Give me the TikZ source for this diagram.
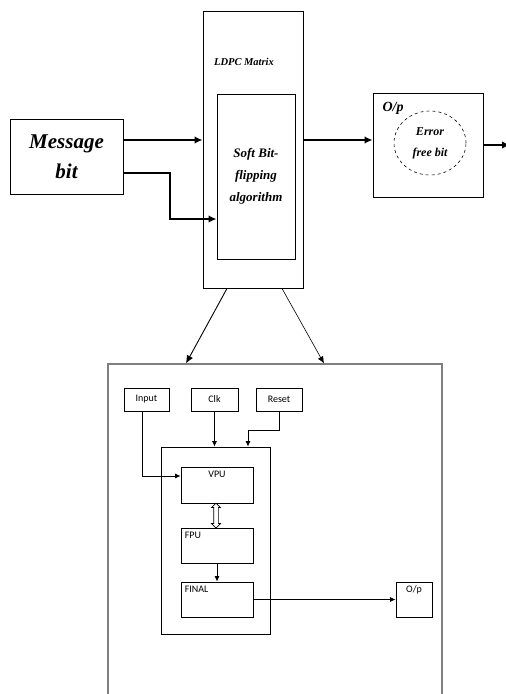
\documentclass[tikz,border=0pt]{standalone}
\usepackage{fontspec}
\setmainfont{Liberation Serif}
\newfontfamily\calfont{Carlito}
\usetikzlibrary{shapes, shapes.arrows, arrows.meta, positioning}

\begin{document}
\begin{tikzpicture}[x=1pt, y=-1pt,
    box/.style={draw, line width=.9pt, rectangle, inner sep=0pt},
    smallbox/.style={draw, line width=.8pt, rectangle, inner sep=0pt, font=\calfont\fontsize{10}{11}\selectfont},
    smalllbl/.style={font=\calfont\fontsize{10}{11}\selectfont, inner sep=4pt},
    thickarr/.style={line width=1.6pt, -{Latex[length=8pt, width=7.5pt]}},
    thinarr/.style={line width=.8pt, -{Latex[length=5.5pt, width=5pt]}}]
        \useasboundingbox (0, 0) rectangle (506, 694);
        % top row
        \node[box, minimum width=113, minimum height=75, align=center,
          font=\bfseries\itshape\fontsize{21}{30}\selectfont] (msg) at (66.5, 156.5) {Message\\bit};
        \node[box, minimum width=100, minimum height=277] (ldpc) at (253, 149.5) {};
        \node[font=\bfseries\itshape\fontsize{10.5}{12}\selectfont] (ldpclbl) at (244, 62) {LDPC Matrix};
        \node[box, minimum width=78, minimum height=165, align=center,
          font=\bfseries\itshape\fontsize{13}{22}\selectfont] (algo) at (256, 176.5) {Soft Bit-\\flipping\\algorithm};
        \node[box, minimum width=110, minimum height=104] (op) at (428, 145) {};
        \node[font=\bfseries\itshape\fontsize{14}{16}\selectfont] (oplbl) at (393, 108) {O/p};
        \node[draw, dashed, ellipse, line width=.6pt, minimum width=72, minimum height=64, inner sep=0pt, align=center,
          font=\bfseries\itshape\fontsize{12}{21}\selectfont] (err) at (430, 143) {Error\\free bit};
        \coordinate (opend) at (510, 145);
        \draw[thickarr] ([yshift=16.5pt]msg.east) -- ([yshift=16.5pt]msg.east -| ldpc.west);
        \draw[thickarr] ([yshift=-16.5pt]msg.east) -| (170, 219) -- (170, 219 -| algo.west);
        \draw[thickarr] ([yshift=9.5pt]ldpc.east) -- ([yshift=9.5pt]ldpc.east -| op.west);
        \draw[thickarr] (op.east) -- (opend);
        % hardware block
        \node[draw, gray, line width=1.1pt, minimum width=334, minimum height=340] (hw) at (275, 534) {};
        \draw[line width=.9pt, -{Latex[length=8pt, width=7pt]}] ([xshift=-26pt]ldpc.south) -- ([xshift=-89pt]hw.north);
        \draw[line width=.6pt, -{Latex[length=7pt, width=6pt]}] ([xshift=29pt]ldpc.south) -- ([xshift=49pt]hw.north);
        \node[smallbox, minimum width=45, minimum height=23] (input) at (146.5, 399.5) {Input};
        \node[smallbox, minimum width=47, minimum height=23] (clk) at (214.5, 399.5) {Clk};
        \node[smallbox, minimum width=46, minimum height=23] (reset) at (279, 399.5) {Reset};
        \node[smallbox, minimum width=109, minimum height=187] (core) at (215.5, 540.5) {};
        \node[smallbox, minimum width=72, minimum height=36,
          label={[smalllbl, below]north:VPU}] (vpu) at (217, 485) {};
        \node[smallbox, minimum width=72, minimum height=35,
          label={[smalllbl, below right]north west:FPU}] (fpu) at (217, 545.5) {};
        \node[smallbox, minimum width=72, minimum height=35,
          label={[smalllbl, below right]north west:FINAL}] (final) at (217, 599.5) {};
        \node[smallbox, minimum width=36, minimum height=35,
          label={[smalllbl, below]north:O/p}] (out) at (414, 599.5) {};
        \node[draw, line width=.7pt, double arrow, rotate=90, inner sep=2pt, minimum height=25,
          double arrow head extend=2.2pt, double arrow head indent=0pt] (dbl) at (216, 515.5) {};
        \draw[thinarr] ([xshift=-4.5pt]input.south) |- ([yshift=9pt]vpu.west);
        \draw[thinarr] (clk.south) -- (clk.south |- core.north);
        \draw[thinarr] (reset.south) -- ++(0, 19) -| ([xshift=32.5pt]core.north);
        \draw[thinarr] (fpu.south) -- (final.north);
        \draw[thinarr] (final.east) -- (out.west);
      \end{tikzpicture}
\end{document}
